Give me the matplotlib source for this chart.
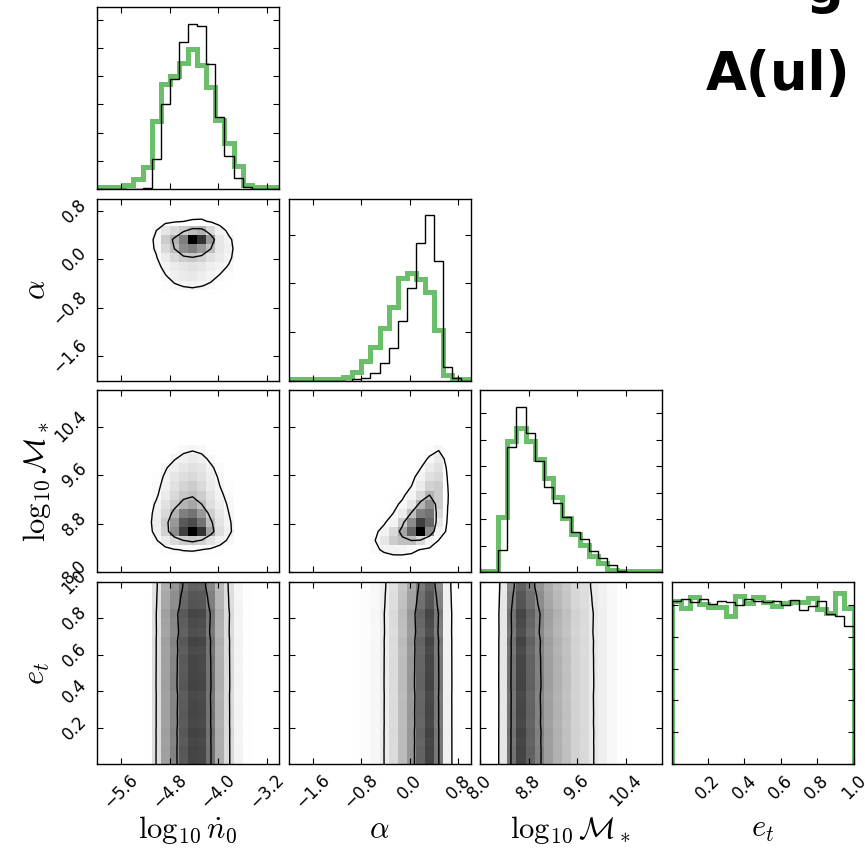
import numpy as np
import matplotlib
matplotlib.use("Agg")
import matplotlib.pyplot as plt
from matplotlib.ticker import MultipleLocator

plt.rcParams["mathtext.fontset"] = "cm"
plt.rcParams["font.family"] = ["DejaVu Sans"]

# ---------------- data ----------------
param_labels = [r"$\log_{10}\dot{n}_0$", r"$\alpha$", r"$\log_{10}\mathcal{M}_*$", r"$e_t$"]
param_ranges = [(-6.0, -3.0), (-2.0, 1.0), (8.0, 11.0), (0.0, 1.0)]
param_ticks = [[-5.6, -4.8, -4.0, -3.2], [-1.6, -0.8, 0.0, 0.8],
               [8.0, 8.8, 9.6, 10.4], [0.2, 0.4, 0.6, 0.8, 1.0]]
param_ticklabels = [["\u22125.6", "\u22124.8", "\u22124.0", "\u22123.2"],
                    ["\u22121.6", "\u22120.8", "0.0", "0.8"],
                    ["8.0", "8.8", "9.6", "10.4"],
                    ["0.2", "0.4", "0.6", "0.8", "1.0"]]
n_bins = 20

# 1D marginal histograms (20 bins each); black = this run, green = comparison
hist_n0_black = [0, 0, 0, 0, 1, 3, 90, 255, 330, 443, 498, 490, 375, 218, 100, 32, 5, 0, 0, 0]
hist_n0_green = [5, 5, 5, 13, 30, 65, 205, 317, 340, 380, 422, 373, 308, 208, 138, 70, 13, 5, 5, 5]
hist_alpha_black = [0, 0, 0, 0, 0, 0, 0, 4, 9, 22, 52, 97, 180, 277, 414, 497, 360, 42, 7, 0]
hist_alpha_green = [4, 4, 4, 4, 4, 4, 12, 27, 60, 102, 157, 222, 307, 324, 304, 267, 152, 17, 4, 4]
hist_mass_black = [0, 0, 68, 376, 498, 420, 335, 258, 208, 168, 121, 101, 63, 43, 21, 5, 0, 0, 0, 0]
hist_mass_green = [3, 3, 168, 396, 436, 396, 341, 283, 228, 163, 115, 83, 48, 28, 8, 3, 3, 3, 3, 3]
hist_et_black = [488, 492, 483, 494, 478, 487, 483, 476, 492, 488, 483, 487, 474, 490, 460, 473, 487, 448, 442, 413]
hist_et_green = [488, 465, 498, 477, 468, 468, 442, 502, 482, 498, 484, 472, 482, 485, 485, 495, 462, 452, 512, 465]

# 2D histogram cells (relative density), rows listed from the top (high y) down
alpha_n0_cells = [
    [0.03, 0.10, 0.15, 0.20, 0.25, 0.30, 0.15, 0.05, 0.01],
    [0.03, 0.20, 0.30, 0.50, 1.00, 0.80, 0.40, 0.10, 0.05],
    [0.03, 0.15, 0.25, 0.45, 0.50, 0.40, 0.25, 0.10, 0.06],
    [0.02, 0.08, 0.15, 0.20, 0.22, 0.18, 0.12, 0.08, 0.05],
    [0.01, 0.05, 0.08, 0.10, 0.12, 0.10, 0.07, 0.05, 0.03],
    [0.00, 0.03, 0.06, 0.08, 0.09, 0.07, 0.05, 0.03, 0.01],
    [0.00, 0.01, 0.03, 0.04, 0.05, 0.04, 0.03, 0.01, 0.00],
]
alpha_n0_first_col, alpha_n0_top_row = 6, 16

mass_n0_cells = [
    [0.00, 0.00, 0.00, 0.03, 0.04, 0.03, 0.00, 0.00, 0.00],
    [0.00, 0.00, 0.04, 0.06, 0.08, 0.06, 0.03, 0.00, 0.00],
    [0.00, 0.04, 0.07, 0.10, 0.12, 0.10, 0.05, 0.02, 0.00],
    [0.01, 0.05, 0.10, 0.13, 0.15, 0.12, 0.07, 0.03, 0.00],
    [0.02, 0.06, 0.12, 0.17, 0.20, 0.15, 0.08, 0.04, 0.01],
    [0.02, 0.08, 0.15, 0.22, 0.25, 0.20, 0.11, 0.05, 0.02],
    [0.05, 0.12, 0.20, 0.30, 0.35, 0.25, 0.13, 0.07, 0.03],
    [0.06, 0.15, 0.30, 0.50, 0.55, 0.40, 0.19, 0.09, 0.04],
    [0.07, 0.20, 0.40, 0.65, 0.70, 0.55, 0.26, 0.11, 0.05],
    [0.06, 0.18, 0.45, 0.75, 1.00, 0.80, 0.36, 0.13, 0.06],
    [0.03, 0.08, 0.15, 0.20, 0.22, 0.18, 0.11, 0.06, 0.03],
    [0.00, 0.01, 0.02, 0.02, 0.02, 0.02, 0.01, 0.01, 0.00],
]
mass_n0_first_col, mass_n0_top_row = 6, 13

mass_alpha_cells = [
    [0.00, 0.00, 0.00, 0.00, 0.00, 0.00, 0.01, 0.04],
    [0.00, 0.00, 0.00, 0.00, 0.00, 0.01, 0.03, 0.08],
    [0.00, 0.00, 0.00, 0.00, 0.00, 0.02, 0.08, 0.12],
    [0.00, 0.00, 0.00, 0.00, 0.01, 0.05, 0.12, 0.15],
    [0.00, 0.00, 0.00, 0.00, 0.02, 0.08, 0.18, 0.20],
    [0.00, 0.00, 0.00, 0.01, 0.05, 0.15, 0.30, 0.20],
    [0.00, 0.00, 0.01, 0.03, 0.10, 0.30, 0.45, 0.20],
    [0.00, 0.00, 0.02, 0.08, 0.25, 0.50, 0.55, 0.15],
    [0.00, 0.01, 0.05, 0.20, 0.45, 0.75, 0.60, 0.10],
    [0.01, 0.05, 0.15, 0.35, 0.60, 1.00, 0.45, 0.05],
    [0.03, 0.10, 0.20, 0.25, 0.25, 0.15, 0.05, 0.01],
    [0.02, 0.04, 0.05, 0.04, 0.02, 0.00, 0.00, 0.00],
]
mass_alpha_first_col, mass_alpha_top_row = 9, 13

count_tick_step = [85, 146, 80, 95]
contour_fractions = (0.55, 0.95)
annotation_text = "A(ul)"
# --------------------------------------

black_hists = [hist_n0_black, hist_alpha_black, hist_mass_black, hist_et_black]
green_hists = [hist_n0_green, hist_alpha_green, hist_mass_green, hist_et_green]

W, Hpx = 865, 852
fig = plt.figure(figsize=(W / 100, Hpx / 100), dpi=100)
GREEN = (0.42, 0.75, 0.42)

def rect(i, j):
    left = 97 + j * 191.5
    top = 7 + i * 191.7
    return [left / W, 1 - (top + 182) / Hpx, 182 / W, 182 / Hpx]

def edges(k):
    lo, hi = param_ranges[k]
    return np.linspace(lo, hi, n_bins + 1)

def style(ax):
    ax.tick_params(direction="in", top=True, right=True, length=4, width=0.8,
                   labelsize=12, colors="k", pad=5)
    for s in ax.spines.values():
        s.set_linewidth(1.0)

def build_grid(cells, first_col, top_row):
    g = np.zeros((n_bins, n_bins))
    for r, row in enumerate(cells):
        for c, v in enumerate(row):
            g[top_row - r, first_col + c] = v
    return g

def smooth(g, sigma):
    x = np.arange(-3, 4)
    k = np.exp(-0.5 * (x / sigma) ** 2)
    k /= k.sum()
    p = np.pad(g, 3, mode="edge")
    p = np.apply_along_axis(lambda m: np.convolve(m, k, mode="same"), 0, p)
    p = np.apply_along_axis(lambda m: np.convolve(m, k, mode="same"), 1, p)
    return p[3:-3, 3:-3]

def levels_for(g, fracs):
    flat = np.sort(g.ravel())[::-1]
    cs = np.cumsum(flat)
    cs /= cs[-1]
    V = []
    for f in fracs:
        V.append(flat[cs <= f][-1] if np.any(cs <= f) else flat[0])
    return sorted(V)

grids = {
    (1, 0): build_grid(alpha_n0_cells, alpha_n0_first_col, alpha_n0_top_row),
    (2, 0): build_grid(mass_n0_cells, mass_n0_first_col, mass_n0_top_row),
    (2, 1): build_grid(mass_alpha_cells, mass_alpha_first_col, mass_alpha_top_row),
}
for j in range(3):
    grids[(3, j)] = np.outer(np.array(hist_et_black, float), np.array(black_hists[j], float))

for i in range(4):
    for j in range(i + 1):
        ax = fig.add_axes(rect(i, j))
        style(ax)
        ax.set_xlim(*param_ranges[j])
        ax.set_xticks(param_ticks[j])
        if i == j:
            e = edges(j)
            ax.stairs(green_hists[j], e, color=GREEN, lw=3.6, baseline=0)
            ax.stairs(black_hists[j], e, color="k", lw=1.0, baseline=0)
            ax.set_ylim(0, 1.1 * max(black_hists[j]))
            ax.yaxis.set_major_locator(MultipleLocator(count_tick_step[j]))
            ax.set_yticklabels([])
        else:
            g = grids[(i, j)]
            ex, ey = edges(j), edges(i)
            vmax = g.max() * (1.35 if i == 3 else 1.0)
            ax.pcolormesh(ex, ey, g, cmap="gray_r", vmin=0, vmax=vmax)
            gs = smooth(g, 0.6)
            V = levels_for(gs, contour_fractions)
            # extend grid to the axes edges so contours reach the frame
            gp = np.pad(gs, 1, mode="edge")
            cx = np.concatenate([[ex[0]], 0.5 * (ex[1:] + ex[:-1]), [ex[-1]]])
            cy = np.concatenate([[ey[0]], 0.5 * (ey[1:] + ey[:-1]), [ey[-1]]])
            ax.contour(cx, cy, gp, V, colors="k", linewidths=1.0)
            ax.set_ylim(*param_ranges[i])
            ax.set_yticks(param_ticks[i])
            if j == 0:
                ax.set_yticklabels(param_ticklabels[i], rotation=45, va="center")
            else:
                ax.set_yticklabels([])
        if i == 3:
            ax.set_xticklabels(param_ticklabels[j], rotation=45, ha="center")
        else:
            ax.set_xticklabels([])

for k in range(4):
    cxp = 97 + k * 191.5 + 91
    fig.text(cxp / W, 1 - 830 / Hpx, param_labels[k], ha="center", va="center", fontsize=22)
for k in range(1, 4):
    cyp = 7 + k * 191.7 + 91
    fig.text(37 / W, 1 - cyp / Hpx, param_labels[k], ha="center", va="center",
             fontsize=22, rotation=90)

fig.text(778 / W, 1 - 90 / Hpx, annotation_text, ha="center", va="baseline",
         fontsize=38, fontweight="bold")
fig.text(824 / W, 1 - 3 / Hpx, "g", ha="center", va="baseline",
         fontsize=38, fontweight="bold")

fig.savefig("out.png", dpi=100)
